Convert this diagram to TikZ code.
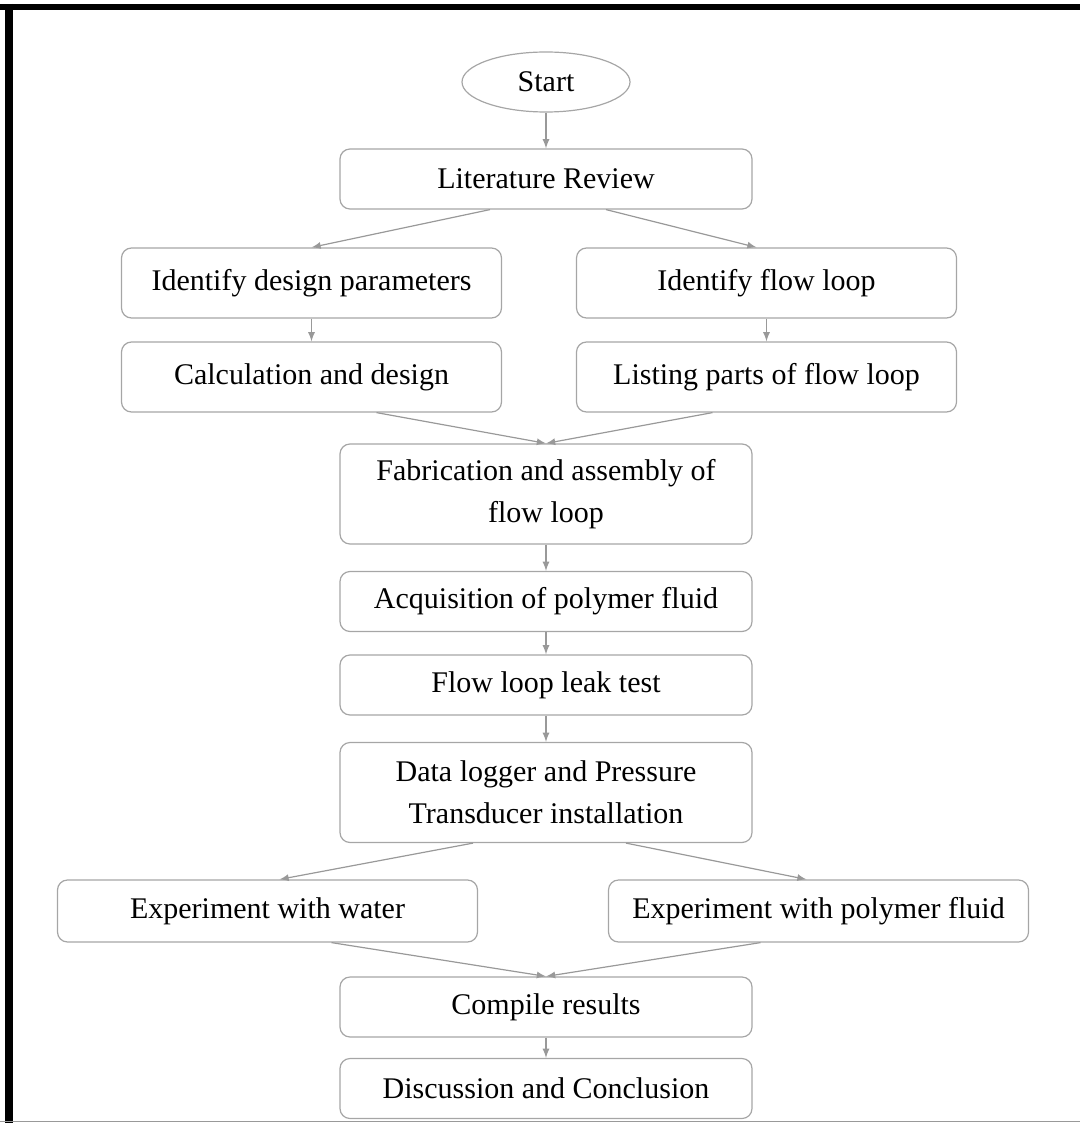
\documentclass[tikz,border=0pt]{standalone}
\usepackage{fontspec}
\setmainfont{Liberation Serif}
\usetikzlibrary{positioning,shapes.geometric}

\begin{document}
\begin{tikzpicture}
\tikzset{cel/.style={draw=black!35,line width=0.6pt,rounded corners=5pt,minimum width=206pt,minimum height=30pt,inner sep=0pt,align=center,font=\fontsize{15}{21}\selectfont},
dbl/.style={cel,minimum height=50pt},
side/.style={cel,minimum width=190pt,minimum height=35pt},
expe/.style={cel,minimum width=210pt,minimum height=31pt},
seta/.style={->,>=latex,draw=black!40,line width=0.6pt},
}

\useasboundingbox (0,0) rectangle (540pt,-561.5pt);
% moldura
\draw[line width=3pt] (0,-3.5pt) -- (540pt,-3.5pt);
\draw[line width=4pt] (4.5pt,-2pt) -- (4.5pt,-561.5pt);
\draw[black!40,line width=0.6pt] (0,-560.8pt) -- (540pt,-560.8pt);

\node[ellipse,draw=black!35,line width=0.6pt,minimum width=84pt,minimum height=30pt,inner sep=0pt,font=\fontsize{15}{21}\selectfont] (start) at (273pt,-41pt) {Start};
\node[cel] (lit) [node distance=48.5pt,below of=start] {Literature Review};
\node[side] (idpar) [node distance=52pt,below of=lit,xshift=-117.25pt] {Identify design parameters};
\node[side] (idloop) [node distance=52pt,below of=lit,xshift=110.25pt] {Identify flow loop};
\node[side] (calc) [node distance=47pt,below of=idpar] {Calculation and design};
\node[side] (parts) [node distance=47pt,below of=idloop] {Listing parts of flow loop};
\node[dbl] (fab) [node distance=157.5pt,below of=lit] {Fabrication and assembly of\\flow loop};
\node[cel] (acq) [node distance=53.75pt,below of=fab] {Acquisition of polymer fluid};
\node[cel] (leak) [node distance=41.75pt,below of=acq] {Flow loop leak test};
\node[dbl] (logger) [node distance=53.75pt,below of=leak] {Data logger and Pressure\\Transducer installation};
\node[expe] (water) [node distance=59.25pt,below of=logger,xshift=-139.25pt] {Experiment with water};
\node[expe] (polym) [node distance=59.25pt,below of=logger,xshift=136.25pt] {Experiment with polymer fluid};
\node[cel] (results) [node distance=107.25pt,below of=logger] {Compile results};
\node[cel] (concl) [node distance=40.75pt,below of=results] {Discussion and Conclusion};

\path[seta] (start) -- (lit);
\path[seta] ([xshift=-28pt]lit.south) -- (idpar.north);
\path[seta] ([xshift=30pt]lit.south) -- ([xshift=-5pt]idloop.north);
\path[seta] (idpar) -- (calc);
\path[seta] (idloop) -- (parts);
\path[seta] ([xshift=32.5pt]calc.south) -- (fab.north);
\path[seta] ([xshift=-27pt]parts.south) -- (fab.north);
\path[seta] (fab) -- (acq);
\path[seta] (acq) -- (leak);
\path[seta] (leak) -- (logger);
\path[seta] ([xshift=-36.5pt]logger.south) -- ([xshift=6pt]water.north);
\path[seta] ([xshift=40pt]logger.south) -- ([xshift=-6pt]polym.north);
\path[seta] ([xshift=32pt]water.south) -- (results.north);
\path[seta] ([xshift=-29pt]polym.south) -- (results.north);
\path[seta] (results) -- (concl);

\end{tikzpicture}
\end{document}
